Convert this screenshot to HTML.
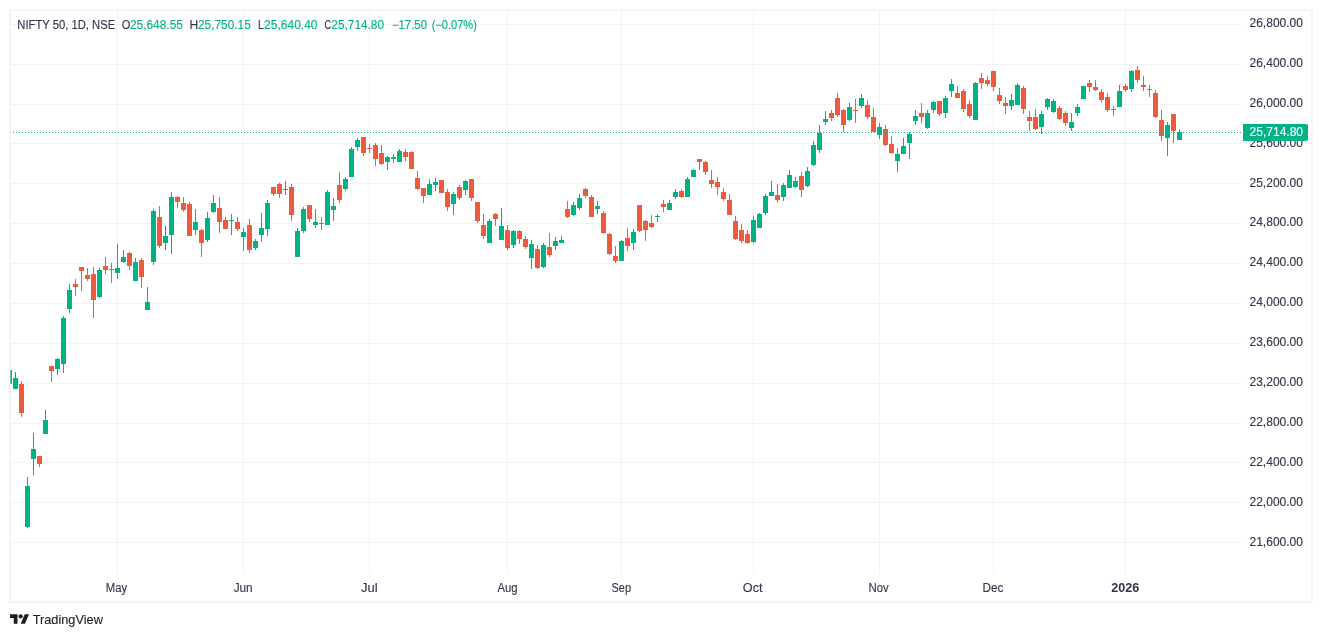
<!DOCTYPE html>
<html><head><meta charset="utf-8"><title>NIFTY 50</title>
<style>
html,body{margin:0;padding:0;background:#fff;overflow:hidden}
body{width:1322px;height:637px}
svg{display:block}
body{position:relative}
text{font-family:"Liberation Sans",sans-serif;font-size:12px}
</style></head><body>
<svg width="1322" height="637" viewBox="0 0 1322 637">
<rect width="1322" height="637" fill="#fff"/>
<g shape-rendering="crispEdges">
<rect x="10" y="10" width="1302" height="1" fill="#f3f3f4"/><rect x="10" y="10" width="1" height="592" fill="#f3f3f4"/><rect x="10" y="9" width="1302" height="1" fill="#f7f7f8"/><rect x="9" y="10" width="1" height="592" fill="#f7f7f8"/><rect x="1311" y="10" width="2" height="592" fill="#f3f3f4"/><rect x="10" y="601" width="1302" height="2" fill="#f3f3f4"/>
<rect x="11" y="24" width="1231" height="1" fill="#f1f2f3"/><rect x="11" y="64" width="1231" height="1" fill="#f1f2f3"/><rect x="11" y="104" width="1231" height="1" fill="#f1f2f3"/><rect x="11" y="143" width="1231" height="1" fill="#f1f2f3"/><rect x="11" y="183" width="1231" height="1" fill="#f1f2f3"/><rect x="11" y="223" width="1231" height="1" fill="#f1f2f3"/><rect x="11" y="263" width="1231" height="1" fill="#f1f2f3"/><rect x="11" y="303" width="1231" height="1" fill="#f1f2f3"/><rect x="11" y="343" width="1231" height="1" fill="#f1f2f3"/><rect x="11" y="383" width="1231" height="1" fill="#f1f2f3"/><rect x="11" y="423" width="1231" height="1" fill="#f1f2f3"/><rect x="11" y="462" width="1231" height="1" fill="#f1f2f3"/><rect x="11" y="502" width="1231" height="1" fill="#f1f2f3"/><rect x="11" y="542" width="1231" height="1" fill="#f1f2f3"/>
<rect x="117" y="11" width="1" height="563" fill="#f1f2f3"/><rect x="243" y="11" width="1" height="563" fill="#f1f2f3"/><rect x="369" y="11" width="1" height="563" fill="#f1f2f3"/><rect x="507" y="11" width="1" height="563" fill="#f1f2f3"/><rect x="621" y="11" width="1" height="563" fill="#f1f2f3"/><rect x="753" y="11" width="1" height="563" fill="#f1f2f3"/><rect x="879" y="11" width="1" height="563" fill="#f1f2f3"/><rect x="993" y="11" width="1" height="563" fill="#f1f2f3"/><rect x="1125" y="11" width="1" height="563" fill="#f1f2f3"/>
<rect x="11" y="370" width="1" height="14" fill="#00b386"/><rect x="10" y="370" width="1" height="14" fill="#66d1b6"/><rect x="15" y="372" width="1" height="17" fill="#00b386"/><rect x="13" y="378" width="5" height="11" fill="#00b386"/><rect x="21" y="381" width="1" height="36" fill="#eb5b3c"/><rect x="19" y="384" width="5" height="29" fill="#eb5b3c"/><rect x="27" y="477" width="1" height="51" fill="#00b386"/><rect x="25" y="486" width="5" height="41" fill="#00b386"/><rect x="33" y="433" width="1" height="42" fill="#00b386"/><rect x="31" y="449" width="5" height="10" fill="#00b386"/><rect x="39" y="456" width="1" height="11" fill="#eb5b3c"/><rect x="37" y="456" width="5" height="8" fill="#eb5b3c"/><rect x="45" y="410" width="1" height="24" fill="#00b386"/><rect x="43" y="420" width="5" height="14" fill="#00b386"/><rect x="51" y="366" width="1" height="16" fill="#eb5b3c"/><rect x="49" y="366" width="5" height="5" fill="#eb5b3c"/><rect x="57" y="358" width="1" height="17" fill="#00b386"/><rect x="55" y="359" width="5" height="10" fill="#00b386"/><rect x="63" y="316" width="1" height="57" fill="#00b386"/><rect x="61" y="318" width="5" height="46" fill="#00b386"/><rect x="69" y="284" width="1" height="29" fill="#00b386"/><rect x="67" y="290" width="5" height="19" fill="#00b386"/><rect x="75" y="279" width="1" height="17" fill="#eb5b3c"/><rect x="73" y="284" width="5" height="3" fill="#eb5b3c"/><rect x="81" y="267" width="1" height="24" fill="#eb5b3c"/><rect x="79" y="267" width="5" height="4" fill="#eb5b3c"/><rect x="87" y="268" width="1" height="13" fill="#eb5b3c"/><rect x="85" y="275" width="5" height="4" fill="#eb5b3c"/><rect x="93" y="267" width="1" height="51" fill="#eb5b3c"/><rect x="91" y="274" width="5" height="26" fill="#eb5b3c"/><rect x="99" y="268" width="1" height="30" fill="#00b386"/><rect x="97" y="270" width="5" height="27" fill="#00b386"/><rect x="105" y="257" width="1" height="17" fill="#eb5b3c"/><rect x="103" y="266" width="5" height="4" fill="#eb5b3c"/><rect x="111" y="263" width="1" height="20" fill="#eb5b3c"/><rect x="109" y="269" width="5" height="1" fill="#eb5b3c"/><rect x="117" y="244" width="1" height="35" fill="#00b386"/><rect x="115" y="268" width="5" height="5" fill="#00b386"/><rect x="123" y="250" width="1" height="13" fill="#00b386"/><rect x="121" y="257" width="5" height="5" fill="#00b386"/><rect x="129" y="252" width="1" height="18" fill="#eb5b3c"/><rect x="127" y="253" width="5" height="13" fill="#eb5b3c"/><rect x="135" y="258" width="1" height="23" fill="#00b386"/><rect x="133" y="262" width="5" height="19" fill="#00b386"/><rect x="141" y="258" width="1" height="30" fill="#eb5b3c"/><rect x="139" y="260" width="5" height="17" fill="#eb5b3c"/><rect x="147" y="287" width="1" height="23" fill="#00b386"/><rect x="145" y="302" width="5" height="8" fill="#00b386"/><rect x="153" y="209" width="1" height="56" fill="#00b386"/><rect x="151" y="211" width="5" height="51" fill="#00b386"/><rect x="159" y="206" width="1" height="42" fill="#eb5b3c"/><rect x="157" y="217" width="5" height="29" fill="#eb5b3c"/><rect x="165" y="226" width="1" height="24" fill="#00b386"/><rect x="163" y="236" width="5" height="7" fill="#00b386"/><rect x="171" y="192" width="1" height="62" fill="#00b386"/><rect x="169" y="197" width="5" height="38" fill="#00b386"/><rect x="177" y="196" width="1" height="12" fill="#eb5b3c"/><rect x="175" y="197" width="5" height="5" fill="#eb5b3c"/><rect x="183" y="197" width="1" height="15" fill="#eb5b3c"/><rect x="181" y="203" width="5" height="7" fill="#eb5b3c"/><rect x="189" y="202" width="1" height="34" fill="#eb5b3c"/><rect x="187" y="204" width="5" height="32" fill="#eb5b3c"/><rect x="195" y="209" width="1" height="26" fill="#00b386"/><rect x="193" y="222" width="5" height="8" fill="#00b386"/><rect x="201" y="229" width="1" height="28" fill="#eb5b3c"/><rect x="199" y="230" width="5" height="13" fill="#eb5b3c"/><rect x="207" y="212" width="1" height="30" fill="#00b386"/><rect x="205" y="218" width="5" height="22" fill="#00b386"/><rect x="213" y="195" width="1" height="18" fill="#00b386"/><rect x="211" y="203" width="5" height="9" fill="#00b386"/><rect x="219" y="197" width="1" height="36" fill="#eb5b3c"/><rect x="217" y="208" width="5" height="14" fill="#eb5b3c"/><rect x="225" y="217" width="1" height="12" fill="#eb5b3c"/><rect x="223" y="220" width="5" height="9" fill="#eb5b3c"/><rect x="231" y="214" width="1" height="21" fill="#00b386"/><rect x="229" y="220" width="5" height="1" fill="#00b386"/><rect x="237" y="217" width="1" height="14" fill="#eb5b3c"/><rect x="235" y="222" width="5" height="7" fill="#eb5b3c"/><rect x="243" y="228" width="1" height="23" fill="#00b386"/><rect x="241" y="232" width="5" height="5" fill="#00b386"/><rect x="249" y="219" width="1" height="34" fill="#eb5b3c"/><rect x="247" y="225" width="5" height="25" fill="#eb5b3c"/><rect x="255" y="239" width="1" height="11" fill="#00b386"/><rect x="253" y="241" width="5" height="7" fill="#00b386"/><rect x="261" y="213" width="1" height="29" fill="#00b386"/><rect x="259" y="228" width="5" height="7" fill="#00b386"/><rect x="267" y="200" width="1" height="36" fill="#00b386"/><rect x="265" y="203" width="5" height="26" fill="#00b386"/><rect x="273" y="187" width="1" height="9" fill="#eb5b3c"/><rect x="271" y="187" width="5" height="7" fill="#eb5b3c"/><rect x="279" y="183" width="1" height="15" fill="#eb5b3c"/><rect x="277" y="184" width="5" height="10" fill="#eb5b3c"/><rect x="285" y="181" width="1" height="14" fill="#00b386"/><rect x="283" y="189" width="5" height="1" fill="#00b386"/><rect x="291" y="184" width="1" height="37" fill="#eb5b3c"/><rect x="289" y="187" width="5" height="28" fill="#eb5b3c"/><rect x="297" y="228" width="1" height="29" fill="#00b386"/><rect x="295" y="231" width="5" height="26" fill="#00b386"/><rect x="303" y="207" width="1" height="26" fill="#00b386"/><rect x="301" y="209" width="5" height="22" fill="#00b386"/><rect x="309" y="205" width="1" height="17" fill="#eb5b3c"/><rect x="307" y="205" width="5" height="14" fill="#eb5b3c"/><rect x="315" y="209" width="1" height="19" fill="#00b386"/><rect x="313" y="222" width="5" height="3" fill="#00b386"/><rect x="321" y="217" width="1" height="13" fill="#eb5b3c"/><rect x="319" y="223" width="5" height="1" fill="#eb5b3c"/><rect x="327" y="190" width="1" height="35" fill="#00b386"/><rect x="325" y="192" width="5" height="33" fill="#00b386"/><rect x="333" y="198" width="1" height="23" fill="#00b386"/><rect x="331" y="206" width="5" height="4" fill="#00b386"/><rect x="339" y="172" width="1" height="31" fill="#eb5b3c"/><rect x="337" y="185" width="5" height="15" fill="#eb5b3c"/><rect x="345" y="177" width="1" height="14" fill="#00b386"/><rect x="343" y="179" width="5" height="10" fill="#00b386"/><rect x="351" y="147" width="1" height="30" fill="#00b386"/><rect x="349" y="149" width="5" height="28" fill="#00b386"/><rect x="357" y="138" width="1" height="13" fill="#00b386"/><rect x="355" y="140" width="5" height="7" fill="#00b386"/><rect x="363" y="137" width="1" height="19" fill="#eb5b3c"/><rect x="361" y="137" width="5" height="16" fill="#eb5b3c"/><rect x="369" y="144" width="1" height="9" fill="#eb5b3c"/><rect x="367" y="148" width="5" height="1" fill="#eb5b3c"/><rect x="375" y="143" width="1" height="23" fill="#eb5b3c"/><rect x="373" y="145" width="5" height="14" fill="#eb5b3c"/><rect x="381" y="145" width="1" height="20" fill="#eb5b3c"/><rect x="379" y="153" width="5" height="11" fill="#eb5b3c"/><rect x="387" y="156" width="1" height="14" fill="#00b386"/><rect x="385" y="157" width="5" height="5" fill="#00b386"/><rect x="393" y="154" width="1" height="9" fill="#00b386"/><rect x="391" y="157" width="5" height="2" fill="#00b386"/><rect x="399" y="149" width="1" height="13" fill="#00b386"/><rect x="397" y="151" width="5" height="11" fill="#00b386"/><rect x="405" y="149" width="1" height="12" fill="#eb5b3c"/><rect x="403" y="152" width="5" height="5" fill="#eb5b3c"/><rect x="411" y="151" width="1" height="18" fill="#eb5b3c"/><rect x="409" y="152" width="5" height="17" fill="#eb5b3c"/><rect x="417" y="171" width="1" height="19" fill="#eb5b3c"/><rect x="415" y="178" width="5" height="11" fill="#eb5b3c"/><rect x="423" y="188" width="1" height="15" fill="#eb5b3c"/><rect x="421" y="188" width="5" height="8" fill="#eb5b3c"/><rect x="429" y="179" width="1" height="16" fill="#00b386"/><rect x="427" y="184" width="5" height="11" fill="#00b386"/><rect x="435" y="178" width="1" height="13" fill="#00b386"/><rect x="433" y="182" width="5" height="3" fill="#00b386"/><rect x="441" y="180" width="1" height="13" fill="#eb5b3c"/><rect x="439" y="180" width="5" height="13" fill="#eb5b3c"/><rect x="447" y="189" width="1" height="22" fill="#eb5b3c"/><rect x="445" y="192" width="5" height="15" fill="#eb5b3c"/><rect x="453" y="192" width="1" height="23" fill="#00b386"/><rect x="451" y="194" width="5" height="10" fill="#00b386"/><rect x="459" y="185" width="1" height="15" fill="#eb5b3c"/><rect x="457" y="187" width="5" height="11" fill="#eb5b3c"/><rect x="465" y="180" width="1" height="15" fill="#00b386"/><rect x="463" y="181" width="5" height="9" fill="#00b386"/><rect x="471" y="179" width="1" height="22" fill="#eb5b3c"/><rect x="469" y="179" width="5" height="19" fill="#eb5b3c"/><rect x="477" y="202" width="1" height="21" fill="#eb5b3c"/><rect x="475" y="202" width="5" height="19" fill="#eb5b3c"/><rect x="483" y="214" width="1" height="25" fill="#eb5b3c"/><rect x="481" y="225" width="5" height="11" fill="#eb5b3c"/><rect x="489" y="219" width="1" height="24" fill="#00b386"/><rect x="487" y="221" width="5" height="22" fill="#00b386"/><rect x="495" y="213" width="1" height="13" fill="#eb5b3c"/><rect x="493" y="214" width="5" height="5" fill="#eb5b3c"/><rect x="501" y="208" width="1" height="32" fill="#00b386"/><rect x="499" y="226" width="5" height="14" fill="#00b386"/><rect x="507" y="225" width="1" height="25" fill="#eb5b3c"/><rect x="505" y="230" width="5" height="18" fill="#eb5b3c"/><rect x="513" y="230" width="1" height="18" fill="#00b386"/><rect x="511" y="231" width="5" height="14" fill="#00b386"/><rect x="519" y="230" width="1" height="14" fill="#eb5b3c"/><rect x="517" y="231" width="5" height="8" fill="#eb5b3c"/><rect x="525" y="236" width="1" height="13" fill="#eb5b3c"/><rect x="523" y="239" width="5" height="8" fill="#eb5b3c"/><rect x="531" y="240" width="1" height="29" fill="#00b386"/><rect x="529" y="244" width="5" height="14" fill="#00b386"/><rect x="537" y="245" width="1" height="24" fill="#eb5b3c"/><rect x="535" y="249" width="5" height="19" fill="#eb5b3c"/><rect x="543" y="243" width="1" height="25" fill="#00b386"/><rect x="541" y="245" width="5" height="22" fill="#00b386"/><rect x="549" y="233" width="1" height="24" fill="#eb5b3c"/><rect x="547" y="247" width="5" height="8" fill="#eb5b3c"/><rect x="555" y="237" width="1" height="13" fill="#00b386"/><rect x="553" y="241" width="5" height="5" fill="#00b386"/><rect x="561" y="236" width="1" height="7" fill="#00b386"/><rect x="559" y="240" width="5" height="3" fill="#00b386"/><rect x="567" y="201" width="1" height="17" fill="#eb5b3c"/><rect x="565" y="209" width="5" height="8" fill="#eb5b3c"/><rect x="573" y="202" width="1" height="14" fill="#00b386"/><rect x="571" y="205" width="5" height="10" fill="#00b386"/><rect x="579" y="194" width="1" height="16" fill="#00b386"/><rect x="577" y="198" width="5" height="10" fill="#00b386"/><rect x="585" y="188" width="1" height="10" fill="#eb5b3c"/><rect x="583" y="189" width="5" height="7" fill="#eb5b3c"/><rect x="591" y="195" width="1" height="22" fill="#eb5b3c"/><rect x="589" y="197" width="5" height="20" fill="#eb5b3c"/><rect x="597" y="201" width="1" height="13" fill="#00b386"/><rect x="595" y="206" width="5" height="3" fill="#00b386"/><rect x="603" y="211" width="1" height="23" fill="#eb5b3c"/><rect x="601" y="213" width="5" height="20" fill="#eb5b3c"/><rect x="609" y="233" width="1" height="22" fill="#eb5b3c"/><rect x="607" y="234" width="5" height="20" fill="#eb5b3c"/><rect x="615" y="246" width="1" height="17" fill="#eb5b3c"/><rect x="613" y="256" width="5" height="5" fill="#eb5b3c"/><rect x="621" y="240" width="1" height="21" fill="#00b386"/><rect x="619" y="241" width="5" height="20" fill="#00b386"/><rect x="627" y="228" width="1" height="23" fill="#eb5b3c"/><rect x="625" y="238" width="5" height="8" fill="#eb5b3c"/><rect x="633" y="229" width="1" height="21" fill="#00b386"/><rect x="631" y="232" width="5" height="11" fill="#00b386"/><rect x="639" y="205" width="1" height="27" fill="#eb5b3c"/><rect x="637" y="205" width="5" height="26" fill="#eb5b3c"/><rect x="645" y="220" width="1" height="21" fill="#eb5b3c"/><rect x="643" y="221" width="5" height="9" fill="#eb5b3c"/><rect x="651" y="215" width="1" height="13" fill="#eb5b3c"/><rect x="649" y="223" width="5" height="4" fill="#eb5b3c"/><rect x="657" y="214" width="1" height="8" fill="#00b386"/><rect x="655" y="216" width="5" height="1" fill="#00b386"/><rect x="663" y="200" width="1" height="12" fill="#eb5b3c"/><rect x="661" y="204" width="5" height="3" fill="#eb5b3c"/><rect x="669" y="200" width="1" height="10" fill="#00b386"/><rect x="667" y="203" width="5" height="7" fill="#00b386"/><rect x="675" y="189" width="1" height="10" fill="#00b386"/><rect x="673" y="192" width="5" height="5" fill="#00b386"/><rect x="681" y="189" width="1" height="9" fill="#eb5b3c"/><rect x="679" y="191" width="5" height="6" fill="#eb5b3c"/><rect x="687" y="177" width="1" height="20" fill="#00b386"/><rect x="685" y="179" width="5" height="18" fill="#00b386"/><rect x="693" y="169" width="1" height="8" fill="#00b386"/><rect x="691" y="170" width="5" height="7" fill="#00b386"/><rect x="699" y="159" width="1" height="11" fill="#eb5b3c"/><rect x="697" y="159" width="5" height="3" fill="#eb5b3c"/><rect x="705" y="161" width="1" height="14" fill="#eb5b3c"/><rect x="703" y="162" width="5" height="10" fill="#eb5b3c"/><rect x="711" y="170" width="1" height="18" fill="#eb5b3c"/><rect x="709" y="180" width="5" height="4" fill="#eb5b3c"/><rect x="717" y="177" width="1" height="18" fill="#eb5b3c"/><rect x="715" y="182" width="5" height="5" fill="#eb5b3c"/><rect x="723" y="188" width="1" height="13" fill="#eb5b3c"/><rect x="721" y="192" width="5" height="7" fill="#eb5b3c"/><rect x="729" y="194" width="1" height="21" fill="#eb5b3c"/><rect x="727" y="200" width="5" height="15" fill="#eb5b3c"/><rect x="735" y="216" width="1" height="24" fill="#eb5b3c"/><rect x="733" y="221" width="5" height="18" fill="#eb5b3c"/><rect x="741" y="224" width="1" height="19" fill="#eb5b3c"/><rect x="739" y="230" width="5" height="11" fill="#eb5b3c"/><rect x="747" y="230" width="1" height="14" fill="#eb5b3c"/><rect x="745" y="234" width="5" height="9" fill="#eb5b3c"/><rect x="753" y="216" width="1" height="27" fill="#00b386"/><rect x="751" y="220" width="5" height="22" fill="#00b386"/><rect x="759" y="213" width="1" height="15" fill="#00b386"/><rect x="757" y="214" width="5" height="14" fill="#00b386"/><rect x="765" y="194" width="1" height="21" fill="#00b386"/><rect x="763" y="196" width="5" height="17" fill="#00b386"/><rect x="771" y="181" width="1" height="15" fill="#00b386"/><rect x="769" y="192" width="5" height="4" fill="#00b386"/><rect x="777" y="184" width="1" height="18" fill="#eb5b3c"/><rect x="775" y="195" width="5" height="5" fill="#eb5b3c"/><rect x="783" y="183" width="1" height="18" fill="#00b386"/><rect x="781" y="185" width="5" height="12" fill="#00b386"/><rect x="789" y="170" width="1" height="18" fill="#00b386"/><rect x="787" y="175" width="5" height="13" fill="#00b386"/><rect x="795" y="177" width="1" height="11" fill="#00b386"/><rect x="793" y="181" width="5" height="6" fill="#00b386"/><rect x="801" y="172" width="1" height="25" fill="#eb5b3c"/><rect x="799" y="176" width="5" height="14" fill="#eb5b3c"/><rect x="807" y="167" width="1" height="20" fill="#00b386"/><rect x="805" y="171" width="5" height="15" fill="#00b386"/><rect x="813" y="141" width="1" height="25" fill="#00b386"/><rect x="811" y="145" width="5" height="20" fill="#00b386"/><rect x="819" y="125" width="1" height="28" fill="#00b386"/><rect x="817" y="133" width="5" height="17" fill="#00b386"/><rect x="825" y="111" width="1" height="14" fill="#00b386"/><rect x="823" y="119" width="5" height="3" fill="#00b386"/><rect x="831" y="110" width="1" height="11" fill="#eb5b3c"/><rect x="829" y="113" width="5" height="5" fill="#eb5b3c"/><rect x="837" y="93" width="1" height="24" fill="#eb5b3c"/><rect x="835" y="98" width="5" height="17" fill="#eb5b3c"/><rect x="843" y="109" width="1" height="23" fill="#eb5b3c"/><rect x="841" y="110" width="5" height="15" fill="#eb5b3c"/><rect x="849" y="103" width="1" height="18" fill="#00b386"/><rect x="847" y="107" width="5" height="13" fill="#00b386"/><rect x="855" y="99" width="1" height="24" fill="#eb5b3c"/><rect x="853" y="110" width="5" height="1" fill="#eb5b3c"/><rect x="861" y="94" width="1" height="14" fill="#00b386"/><rect x="859" y="98" width="5" height="8" fill="#00b386"/><rect x="867" y="100" width="1" height="19" fill="#eb5b3c"/><rect x="865" y="105" width="5" height="12" fill="#eb5b3c"/><rect x="873" y="108" width="1" height="24" fill="#eb5b3c"/><rect x="871" y="117" width="5" height="15" fill="#eb5b3c"/><rect x="879" y="123" width="1" height="16" fill="#00b386"/><rect x="877" y="127" width="5" height="8" fill="#00b386"/><rect x="885" y="125" width="1" height="21" fill="#eb5b3c"/><rect x="883" y="129" width="5" height="16" fill="#eb5b3c"/><rect x="891" y="136" width="1" height="18" fill="#eb5b3c"/><rect x="889" y="144" width="5" height="9" fill="#eb5b3c"/><rect x="897" y="148" width="1" height="24" fill="#00b386"/><rect x="895" y="154" width="5" height="7" fill="#00b386"/><rect x="903" y="138" width="1" height="16" fill="#00b386"/><rect x="901" y="146" width="5" height="8" fill="#00b386"/><rect x="909" y="132" width="1" height="27" fill="#00b386"/><rect x="907" y="134" width="5" height="9" fill="#00b386"/><rect x="915" y="110" width="1" height="15" fill="#00b386"/><rect x="913" y="116" width="5" height="5" fill="#00b386"/><rect x="921" y="103" width="1" height="20" fill="#eb5b3c"/><rect x="919" y="113" width="5" height="4" fill="#eb5b3c"/><rect x="927" y="110" width="1" height="19" fill="#00b386"/><rect x="925" y="113" width="5" height="15" fill="#00b386"/><rect x="933" y="101" width="1" height="12" fill="#00b386"/><rect x="931" y="102" width="5" height="8" fill="#00b386"/><rect x="939" y="101" width="1" height="15" fill="#eb5b3c"/><rect x="937" y="101" width="5" height="13" fill="#eb5b3c"/><rect x="945" y="96" width="1" height="22" fill="#00b386"/><rect x="943" y="98" width="5" height="15" fill="#00b386"/><rect x="951" y="79" width="1" height="18" fill="#00b386"/><rect x="949" y="84" width="5" height="7" fill="#00b386"/><rect x="957" y="86" width="1" height="12" fill="#eb5b3c"/><rect x="955" y="93" width="5" height="5" fill="#eb5b3c"/><rect x="963" y="89" width="1" height="23" fill="#eb5b3c"/><rect x="961" y="91" width="5" height="18" fill="#eb5b3c"/><rect x="969" y="100" width="1" height="18" fill="#eb5b3c"/><rect x="967" y="104" width="5" height="12" fill="#eb5b3c"/><rect x="975" y="82" width="1" height="38" fill="#00b386"/><rect x="973" y="83" width="5" height="37" fill="#00b386"/><rect x="981" y="73" width="1" height="16" fill="#eb5b3c"/><rect x="979" y="78" width="5" height="5" fill="#eb5b3c"/><rect x="987" y="76" width="1" height="10" fill="#eb5b3c"/><rect x="985" y="80" width="5" height="4" fill="#eb5b3c"/><rect x="993" y="71" width="1" height="20" fill="#eb5b3c"/><rect x="991" y="71" width="5" height="16" fill="#eb5b3c"/><rect x="999" y="88" width="1" height="16" fill="#eb5b3c"/><rect x="997" y="95" width="5" height="6" fill="#eb5b3c"/><rect x="1005" y="97" width="1" height="17" fill="#eb5b3c"/><rect x="1003" y="103" width="5" height="3" fill="#eb5b3c"/><rect x="1011" y="94" width="1" height="16" fill="#00b386"/><rect x="1009" y="100" width="5" height="6" fill="#00b386"/><rect x="1017" y="83" width="1" height="22" fill="#00b386"/><rect x="1015" y="85" width="5" height="20" fill="#00b386"/><rect x="1023" y="86" width="1" height="28" fill="#eb5b3c"/><rect x="1021" y="88" width="5" height="21" fill="#eb5b3c"/><rect x="1029" y="111" width="1" height="20" fill="#eb5b3c"/><rect x="1027" y="117" width="5" height="4" fill="#eb5b3c"/><rect x="1035" y="109" width="1" height="21" fill="#eb5b3c"/><rect x="1033" y="117" width="5" height="12" fill="#eb5b3c"/><rect x="1041" y="111" width="1" height="23" fill="#00b386"/><rect x="1039" y="114" width="5" height="13" fill="#00b386"/><rect x="1047" y="98" width="1" height="12" fill="#00b386"/><rect x="1045" y="99" width="5" height="8" fill="#00b386"/><rect x="1053" y="99" width="1" height="14" fill="#00b386"/><rect x="1051" y="101" width="5" height="11" fill="#00b386"/><rect x="1059" y="106" width="1" height="14" fill="#eb5b3c"/><rect x="1057" y="108" width="5" height="11" fill="#eb5b3c"/><rect x="1065" y="111" width="1" height="15" fill="#eb5b3c"/><rect x="1063" y="113" width="5" height="10" fill="#eb5b3c"/><rect x="1071" y="113" width="1" height="18" fill="#00b386"/><rect x="1069" y="122" width="5" height="6" fill="#00b386"/><rect x="1077" y="104" width="1" height="12" fill="#00b386"/><rect x="1075" y="107" width="5" height="6" fill="#00b386"/><rect x="1083" y="86" width="1" height="13" fill="#00b386"/><rect x="1081" y="86" width="5" height="13" fill="#00b386"/><rect x="1089" y="80" width="1" height="12" fill="#eb5b3c"/><rect x="1087" y="83" width="5" height="4" fill="#eb5b3c"/><rect x="1095" y="80" width="1" height="11" fill="#eb5b3c"/><rect x="1093" y="87" width="5" height="3" fill="#eb5b3c"/><rect x="1101" y="89" width="1" height="14" fill="#eb5b3c"/><rect x="1099" y="92" width="5" height="8" fill="#eb5b3c"/><rect x="1107" y="93" width="1" height="19" fill="#eb5b3c"/><rect x="1105" y="97" width="5" height="13" fill="#eb5b3c"/><rect x="1113" y="106" width="1" height="10" fill="#eb5b3c"/><rect x="1111" y="109" width="5" height="1" fill="#eb5b3c"/><rect x="1119" y="85" width="1" height="22" fill="#00b386"/><rect x="1117" y="91" width="5" height="16" fill="#00b386"/><rect x="1125" y="84" width="1" height="8" fill="#eb5b3c"/><rect x="1123" y="86" width="5" height="4" fill="#eb5b3c"/><rect x="1131" y="70" width="1" height="22" fill="#00b386"/><rect x="1129" y="71" width="5" height="18" fill="#00b386"/><rect x="1137" y="66" width="1" height="17" fill="#eb5b3c"/><rect x="1135" y="70" width="5" height="10" fill="#eb5b3c"/><rect x="1143" y="76" width="1" height="15" fill="#eb5b3c"/><rect x="1141" y="85" width="5" height="2" fill="#eb5b3c"/><rect x="1149" y="85" width="1" height="12" fill="#eb5b3c"/><rect x="1147" y="89" width="5" height="1" fill="#eb5b3c"/><rect x="1155" y="90" width="1" height="28" fill="#eb5b3c"/><rect x="1153" y="93" width="5" height="24" fill="#eb5b3c"/><rect x="1161" y="110" width="1" height="31" fill="#eb5b3c"/><rect x="1159" y="120" width="5" height="16" fill="#eb5b3c"/><rect x="1167" y="122" width="1" height="34" fill="#00b386"/><rect x="1165" y="125" width="5" height="13" fill="#00b386"/><rect x="1173" y="114" width="1" height="29" fill="#eb5b3c"/><rect x="1171" y="114" width="5" height="17" fill="#eb5b3c"/><rect x="1179" y="129" width="1" height="11" fill="#00b386"/><rect x="1177" y="132" width="5" height="8" fill="#00b386"/>
<path d="M13 132h1v1h-1zM16 132h1v1h-1zM19 132h1v1h-1zM22 132h1v1h-1zM25 132h1v1h-1zM28 132h1v1h-1zM31 132h1v1h-1zM34 132h1v1h-1zM37 132h1v1h-1zM40 132h1v1h-1zM43 132h1v1h-1zM46 132h1v1h-1zM49 132h1v1h-1zM52 132h1v1h-1zM55 132h1v1h-1zM58 132h1v1h-1zM61 132h1v1h-1zM64 132h1v1h-1zM67 132h1v1h-1zM70 132h1v1h-1zM73 132h1v1h-1zM76 132h1v1h-1zM79 132h1v1h-1zM82 132h1v1h-1zM85 132h1v1h-1zM88 132h1v1h-1zM91 132h1v1h-1zM94 132h1v1h-1zM97 132h1v1h-1zM100 132h1v1h-1zM103 132h1v1h-1zM106 132h1v1h-1zM109 132h1v1h-1zM112 132h1v1h-1zM115 132h1v1h-1zM118 132h1v1h-1zM121 132h1v1h-1zM124 132h1v1h-1zM127 132h1v1h-1zM130 132h1v1h-1zM133 132h1v1h-1zM136 132h1v1h-1zM139 132h1v1h-1zM142 132h1v1h-1zM145 132h1v1h-1zM148 132h1v1h-1zM151 132h1v1h-1zM154 132h1v1h-1zM157 132h1v1h-1zM160 132h1v1h-1zM163 132h1v1h-1zM166 132h1v1h-1zM169 132h1v1h-1zM172 132h1v1h-1zM175 132h1v1h-1zM178 132h1v1h-1zM181 132h1v1h-1zM184 132h1v1h-1zM187 132h1v1h-1zM190 132h1v1h-1zM193 132h1v1h-1zM196 132h1v1h-1zM199 132h1v1h-1zM202 132h1v1h-1zM205 132h1v1h-1zM208 132h1v1h-1zM211 132h1v1h-1zM214 132h1v1h-1zM217 132h1v1h-1zM220 132h1v1h-1zM223 132h1v1h-1zM226 132h1v1h-1zM229 132h1v1h-1zM232 132h1v1h-1zM235 132h1v1h-1zM238 132h1v1h-1zM241 132h1v1h-1zM244 132h1v1h-1zM247 132h1v1h-1zM250 132h1v1h-1zM253 132h1v1h-1zM256 132h1v1h-1zM259 132h1v1h-1zM262 132h1v1h-1zM265 132h1v1h-1zM268 132h1v1h-1zM271 132h1v1h-1zM274 132h1v1h-1zM277 132h1v1h-1zM280 132h1v1h-1zM283 132h1v1h-1zM286 132h1v1h-1zM289 132h1v1h-1zM292 132h1v1h-1zM295 132h1v1h-1zM298 132h1v1h-1zM301 132h1v1h-1zM304 132h1v1h-1zM307 132h1v1h-1zM310 132h1v1h-1zM313 132h1v1h-1zM316 132h1v1h-1zM319 132h1v1h-1zM322 132h1v1h-1zM325 132h1v1h-1zM328 132h1v1h-1zM331 132h1v1h-1zM334 132h1v1h-1zM337 132h1v1h-1zM340 132h1v1h-1zM343 132h1v1h-1zM346 132h1v1h-1zM349 132h1v1h-1zM352 132h1v1h-1zM355 132h1v1h-1zM358 132h1v1h-1zM361 132h1v1h-1zM364 132h1v1h-1zM367 132h1v1h-1zM370 132h1v1h-1zM373 132h1v1h-1zM376 132h1v1h-1zM379 132h1v1h-1zM382 132h1v1h-1zM385 132h1v1h-1zM388 132h1v1h-1zM391 132h1v1h-1zM394 132h1v1h-1zM397 132h1v1h-1zM400 132h1v1h-1zM403 132h1v1h-1zM406 132h1v1h-1zM409 132h1v1h-1zM412 132h1v1h-1zM415 132h1v1h-1zM418 132h1v1h-1zM421 132h1v1h-1zM424 132h1v1h-1zM427 132h1v1h-1zM430 132h1v1h-1zM433 132h1v1h-1zM436 132h1v1h-1zM439 132h1v1h-1zM442 132h1v1h-1zM445 132h1v1h-1zM448 132h1v1h-1zM451 132h1v1h-1zM454 132h1v1h-1zM457 132h1v1h-1zM460 132h1v1h-1zM463 132h1v1h-1zM466 132h1v1h-1zM469 132h1v1h-1zM472 132h1v1h-1zM475 132h1v1h-1zM478 132h1v1h-1zM481 132h1v1h-1zM484 132h1v1h-1zM487 132h1v1h-1zM490 132h1v1h-1zM493 132h1v1h-1zM496 132h1v1h-1zM499 132h1v1h-1zM502 132h1v1h-1zM505 132h1v1h-1zM508 132h1v1h-1zM511 132h1v1h-1zM514 132h1v1h-1zM517 132h1v1h-1zM520 132h1v1h-1zM523 132h1v1h-1zM526 132h1v1h-1zM529 132h1v1h-1zM532 132h1v1h-1zM535 132h1v1h-1zM538 132h1v1h-1zM541 132h1v1h-1zM544 132h1v1h-1zM547 132h1v1h-1zM550 132h1v1h-1zM553 132h1v1h-1zM556 132h1v1h-1zM559 132h1v1h-1zM562 132h1v1h-1zM565 132h1v1h-1zM568 132h1v1h-1zM571 132h1v1h-1zM574 132h1v1h-1zM577 132h1v1h-1zM580 132h1v1h-1zM583 132h1v1h-1zM586 132h1v1h-1zM589 132h1v1h-1zM592 132h1v1h-1zM595 132h1v1h-1zM598 132h1v1h-1zM601 132h1v1h-1zM604 132h1v1h-1zM607 132h1v1h-1zM610 132h1v1h-1zM613 132h1v1h-1zM616 132h1v1h-1zM619 132h1v1h-1zM622 132h1v1h-1zM625 132h1v1h-1zM628 132h1v1h-1zM631 132h1v1h-1zM634 132h1v1h-1zM637 132h1v1h-1zM640 132h1v1h-1zM643 132h1v1h-1zM646 132h1v1h-1zM649 132h1v1h-1zM652 132h1v1h-1zM655 132h1v1h-1zM658 132h1v1h-1zM661 132h1v1h-1zM664 132h1v1h-1zM667 132h1v1h-1zM670 132h1v1h-1zM673 132h1v1h-1zM676 132h1v1h-1zM679 132h1v1h-1zM682 132h1v1h-1zM685 132h1v1h-1zM688 132h1v1h-1zM691 132h1v1h-1zM694 132h1v1h-1zM697 132h1v1h-1zM700 132h1v1h-1zM703 132h1v1h-1zM706 132h1v1h-1zM709 132h1v1h-1zM712 132h1v1h-1zM715 132h1v1h-1zM718 132h1v1h-1zM721 132h1v1h-1zM724 132h1v1h-1zM727 132h1v1h-1zM730 132h1v1h-1zM733 132h1v1h-1zM736 132h1v1h-1zM739 132h1v1h-1zM742 132h1v1h-1zM745 132h1v1h-1zM748 132h1v1h-1zM751 132h1v1h-1zM754 132h1v1h-1zM757 132h1v1h-1zM760 132h1v1h-1zM763 132h1v1h-1zM766 132h1v1h-1zM769 132h1v1h-1zM772 132h1v1h-1zM775 132h1v1h-1zM778 132h1v1h-1zM781 132h1v1h-1zM784 132h1v1h-1zM787 132h1v1h-1zM790 132h1v1h-1zM793 132h1v1h-1zM796 132h1v1h-1zM799 132h1v1h-1zM802 132h1v1h-1zM805 132h1v1h-1zM808 132h1v1h-1zM811 132h1v1h-1zM814 132h1v1h-1zM817 132h1v1h-1zM820 132h1v1h-1zM823 132h1v1h-1zM826 132h1v1h-1zM829 132h1v1h-1zM832 132h1v1h-1zM835 132h1v1h-1zM838 132h1v1h-1zM841 132h1v1h-1zM844 132h1v1h-1zM847 132h1v1h-1zM850 132h1v1h-1zM853 132h1v1h-1zM856 132h1v1h-1zM859 132h1v1h-1zM862 132h1v1h-1zM865 132h1v1h-1zM868 132h1v1h-1zM871 132h1v1h-1zM874 132h1v1h-1zM877 132h1v1h-1zM880 132h1v1h-1zM883 132h1v1h-1zM886 132h1v1h-1zM889 132h1v1h-1zM892 132h1v1h-1zM895 132h1v1h-1zM898 132h1v1h-1zM901 132h1v1h-1zM904 132h1v1h-1zM907 132h1v1h-1zM910 132h1v1h-1zM913 132h1v1h-1zM916 132h1v1h-1zM919 132h1v1h-1zM922 132h1v1h-1zM925 132h1v1h-1zM928 132h1v1h-1zM931 132h1v1h-1zM934 132h1v1h-1zM937 132h1v1h-1zM940 132h1v1h-1zM943 132h1v1h-1zM946 132h1v1h-1zM949 132h1v1h-1zM952 132h1v1h-1zM955 132h1v1h-1zM958 132h1v1h-1zM961 132h1v1h-1zM964 132h1v1h-1zM967 132h1v1h-1zM970 132h1v1h-1zM973 132h1v1h-1zM976 132h1v1h-1zM979 132h1v1h-1zM982 132h1v1h-1zM985 132h1v1h-1zM988 132h1v1h-1zM991 132h1v1h-1zM994 132h1v1h-1zM997 132h1v1h-1zM1000 132h1v1h-1zM1003 132h1v1h-1zM1006 132h1v1h-1zM1009 132h1v1h-1zM1012 132h1v1h-1zM1015 132h1v1h-1zM1018 132h1v1h-1zM1021 132h1v1h-1zM1024 132h1v1h-1zM1027 132h1v1h-1zM1030 132h1v1h-1zM1033 132h1v1h-1zM1036 132h1v1h-1zM1039 132h1v1h-1zM1042 132h1v1h-1zM1045 132h1v1h-1zM1048 132h1v1h-1zM1051 132h1v1h-1zM1054 132h1v1h-1zM1057 132h1v1h-1zM1060 132h1v1h-1zM1063 132h1v1h-1zM1066 132h1v1h-1zM1069 132h1v1h-1zM1072 132h1v1h-1zM1075 132h1v1h-1zM1078 132h1v1h-1zM1081 132h1v1h-1zM1084 132h1v1h-1zM1087 132h1v1h-1zM1090 132h1v1h-1zM1093 132h1v1h-1zM1096 132h1v1h-1zM1099 132h1v1h-1zM1102 132h1v1h-1zM1105 132h1v1h-1zM1108 132h1v1h-1zM1111 132h1v1h-1zM1114 132h1v1h-1zM1117 132h1v1h-1zM1120 132h1v1h-1zM1123 132h1v1h-1zM1126 132h1v1h-1zM1129 132h1v1h-1zM1132 132h1v1h-1zM1135 132h1v1h-1zM1138 132h1v1h-1zM1141 132h1v1h-1zM1144 132h1v1h-1zM1147 132h1v1h-1zM1150 132h1v1h-1zM1153 132h1v1h-1zM1156 132h1v1h-1zM1159 132h1v1h-1zM1162 132h1v1h-1zM1165 132h1v1h-1zM1168 132h1v1h-1zM1171 132h1v1h-1zM1174 132h1v1h-1zM1177 132h1v1h-1zM1180 132h1v1h-1zM1183 132h1v1h-1zM1186 132h1v1h-1zM1189 132h1v1h-1zM1192 132h1v1h-1zM1195 132h1v1h-1zM1198 132h1v1h-1zM1201 132h1v1h-1zM1204 132h1v1h-1zM1207 132h1v1h-1zM1210 132h1v1h-1zM1213 132h1v1h-1zM1216 132h1v1h-1zM1219 132h1v1h-1zM1222 132h1v1h-1zM1225 132h1v1h-1zM1228 132h1v1h-1zM1231 132h1v1h-1zM1234 132h1v1h-1zM1237 132h1v1h-1zM1240 132h1v1h-1z" fill="#00b386"/><rect x="10" y="132" width="1" height="1" fill="#a3e0d0"/>
</g>
</svg>
<svg width="1322" height="637" viewBox="0 0 1322 637" style="position:absolute;left:0;top:0;will-change:transform">
<text transform="translate(1249.50 26.95) scale(1.0019 1)" fill="#31354c" stroke="#31354c" stroke-width="0.12">26,800.00</text>
<text transform="translate(1249.50 66.84) scale(1.0019 1)" fill="#31354c" stroke="#31354c" stroke-width="0.12">26,400.00</text>
<text transform="translate(1249.50 106.73) scale(1.0019 1)" fill="#31354c" stroke="#31354c" stroke-width="0.12">26,000.00</text>
<text transform="translate(1249.50 146.62) scale(1.0019 1)" fill="#31354c" stroke="#31354c" stroke-width="0.12">25,600.00</text>
<text transform="translate(1249.50 186.51) scale(1.0019 1)" fill="#31354c" stroke="#31354c" stroke-width="0.12">25,200.00</text>
<text transform="translate(1249.50 226.40) scale(1.0019 1)" fill="#31354c" stroke="#31354c" stroke-width="0.12">24,800.00</text>
<text transform="translate(1249.50 266.29) scale(1.0019 1)" fill="#31354c" stroke="#31354c" stroke-width="0.12">24,400.00</text>
<text transform="translate(1249.50 306.18) scale(1.0019 1)" fill="#31354c" stroke="#31354c" stroke-width="0.12">24,000.00</text>
<text transform="translate(1249.50 346.07) scale(1.0019 1)" fill="#31354c" stroke="#31354c" stroke-width="0.12">23,600.00</text>
<text transform="translate(1249.50 385.96) scale(1.0019 1)" fill="#31354c" stroke="#31354c" stroke-width="0.12">23,200.00</text>
<text transform="translate(1249.50 425.85) scale(1.0019 1)" fill="#31354c" stroke="#31354c" stroke-width="0.12">22,800.00</text>
<text transform="translate(1249.50 465.74) scale(1.0019 1)" fill="#31354c" stroke="#31354c" stroke-width="0.12">22,400.00</text>
<text transform="translate(1249.50 505.63) scale(1.0019 1)" fill="#31354c" stroke="#31354c" stroke-width="0.12">22,000.00</text>
<text transform="translate(1249.50 545.52) scale(1.0019 1)" fill="#31354c" stroke="#31354c" stroke-width="0.12">21,600.00</text>
<path d="M1243 124h63a2 2 0 0 1 2 2v13a2 2 0 0 1 -2 2h-63z" fill="#00b386"/>
<text transform="translate(1249.50 136.00) scale(1.0038 1)" fill="#fff" stroke="#fff" stroke-width="0.12">25,714.80</text>
<text transform="translate(105.86 592.00) scale(0.9425 1)" fill="#31354c" stroke="#31354c" stroke-width="0.12">May</text>
<text transform="translate(233.65 592.00) scale(0.9838 1)" fill="#31354c" stroke="#31354c" stroke-width="0.12">Jun</text>
<text transform="translate(360.93 592.00) scale(1.0877 1)" fill="#31354c" stroke="#31354c" stroke-width="0.12">Jul</text>
<text transform="translate(497.50 592.00) scale(0.9398 1)" fill="#31354c" stroke="#31354c" stroke-width="0.12">Aug</text>
<text transform="translate(611.54 592.00) scale(0.9122 1)" fill="#31354c" stroke="#31354c" stroke-width="0.12">Sep</text>
<text transform="translate(742.87 592.00) scale(1.0556 1)" fill="#31354c" stroke="#31354c" stroke-width="0.12">Oct</text>
<text transform="translate(868.55 592.00) scale(0.9481 1)" fill="#31354c" stroke="#31354c" stroke-width="0.12">Nov</text>
<text transform="translate(982.41 592.00) scale(0.9850 1)" fill="#31354c" stroke="#31354c" stroke-width="0.12">Dec</text>
<text transform="translate(1111.17 592.00) scale(1.0524 1)" fill="#31354c" stroke="#31354c" stroke-width="0" font-weight="bold">2026</text>
<text transform="translate(17.26 29.00) scale(0.9388 1)" fill="#31354c" stroke="#31354c" stroke-width="0.12">NIFTY 50, 1D, NSE</text>
<text transform="translate(121.64 29.00) scale(0.9212 1)" fill="#31354c" stroke="#31354c" stroke-width="0.12">O</text>
<text transform="translate(129.90 29.00) scale(0.9943 1)" fill="#00b386" stroke="#00b386" stroke-width="0.12">25,648.55</text>
<text transform="translate(189.59 29.00) scale(1.0074 1)" fill="#31354c" stroke="#31354c" stroke-width="0.12">H</text>
<text transform="translate(198.01 29.00) scale(0.9886 1)" fill="#00b386" stroke="#00b386" stroke-width="0.12">25,750.15</text>
<text transform="translate(258.12 29.00) scale(0.8762 1)" fill="#31354c" stroke="#31354c" stroke-width="0.12">L</text>
<text transform="translate(264.10 29.00) scale(1.0000 1)" fill="#00b386" stroke="#00b386" stroke-width="0.12">25,640.40</text>
<text transform="translate(324.61 29.00) scale(0.7742 1)" fill="#31354c" stroke="#31354c" stroke-width="0.12">C</text>
<text transform="translate(331.31 29.00) scale(0.9886 1)" fill="#00b386" stroke="#00b386" stroke-width="0.12">25,714.80</text>
<text transform="translate(391.89 29.00) scale(0.9500 1)" fill="#00b386" stroke="#00b386" stroke-width="0.12">−17.50</text>
<text transform="translate(431.71 29.00) scale(0.9221 1)" fill="#00b386" stroke="#00b386" stroke-width="0.12">(−0.07%)</text>
<g transform="translate(10 612.05) scale(0.5352)" fill="#1e1e1e"><path d="M14 22H7V11H0V4h14v18zM28 22h-8l7.5-18h8L28 22z"/><circle cx="20" cy="8" r="4"/></g>
<text transform="translate(32.65 623.70) scale(0.9839 1)" fill="#1e1e1e" stroke="#1e1e1e" stroke-width="0.12" style="font-size:13px">TradingView</text>
</svg>
</body></html>
